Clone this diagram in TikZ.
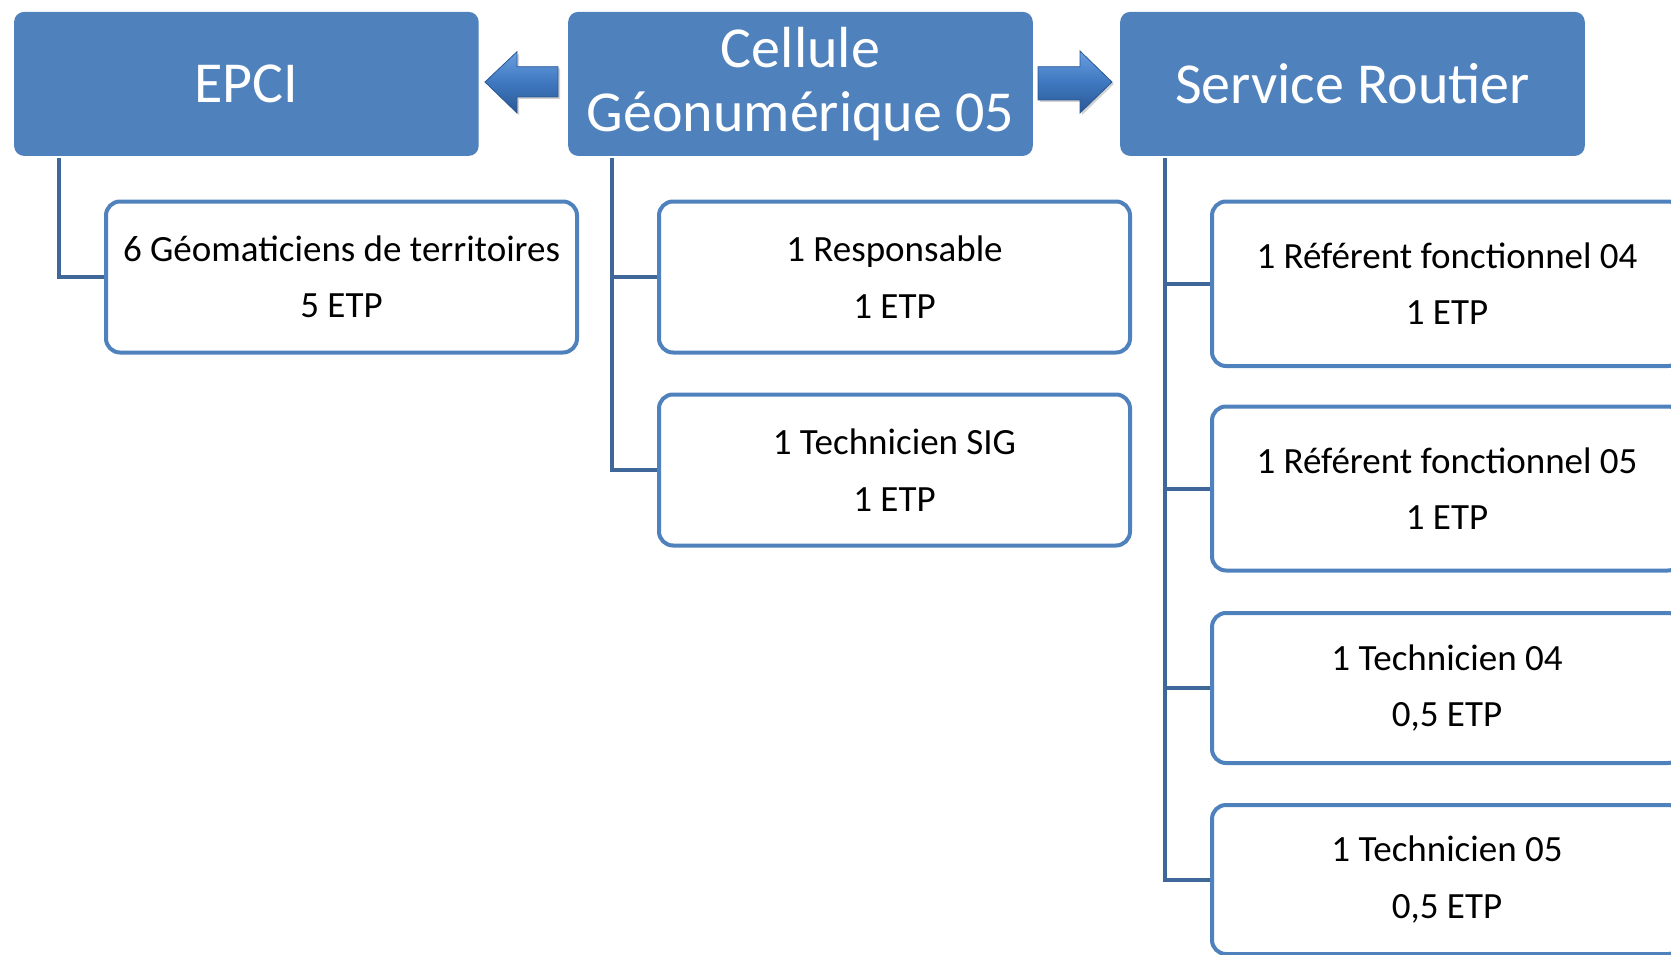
\documentclass[tikz,border=0pt]{standalone}
\usepackage{fontspec}
\setmainfont{Carlito}
\usetikzlibrary{shadows}
\definecolor{hdr}{HTML}{4F81BD}
\definecolor{conn}{HTML}{3F6799}
\definecolor{arrdark}{HTML}{2A5894}
\definecolor{arrmid}{HTML}{3F78C0}
\definecolor{arrlight}{HTML}{6A9FE0}
\begin{document}
\begin{tikzpicture}[x=1pt,y=-1pt,
  header/.style={fill=hdr, rounded corners=10pt, text=white,
    font=\fontsize{58}{64}\selectfont, align=center, inner sep=0pt,
    anchor=north west, minimum width=464.6pt, minimum height=144pt},
  member/.style={draw=hdr, line width=4pt, fill=white, rounded corners=14pt,
    font=\fontsize{37}{56.5}\selectfont, align=center, inner sep=0pt,
    anchor=north west},
  link/.style={draw=conn, line width=4pt},
  blockarrow/.style={draw=arrdark, line width=0.8pt, line join=miter,
    top color=arrlight, bottom color=arrdark, middle color=arrmid,
    drop shadow={opacity=0.35, shadow xshift=2pt, shadow yshift=-2pt}}]
\path[use as bounding box, clip] (0,0) rectangle (1671,955);

% headers
\node[header] (epci) at (13.9,11.7) {EPCI};
\node[header] (cell) at (568,11.7) {Cellule\\Géonumérique 05};
\node[header] (serv) at (1120,11.7) {Service Routier};

% members
\node[member, minimum width=471pt, minimum height=151pt] (geo) at (104,199.5) {6 Géomaticiens de territoires\\5 ETP};
\node[member, minimum width=471pt, minimum height=151pt] (resp) at (657,199.5) {1 Responsable\\1 ETP};
\node[member, minimum width=471pt, minimum height=151pt] (tsig) at (657,392.5) {1 Technicien SIG\\1 ETP};
\node[member, minimum width=470pt, minimum height=164.5pt] (ref04) at (1210,199.5) {1 Référent fonctionnel 04\\1 ETP};
\node[member, minimum width=470pt, minimum height=164pt] (ref05) at (1210,404.5) {1 Référent fonctionnel 05\\1 ETP};
\node[member, minimum width=470pt, minimum height=150pt] (t04) at (1210,611) {1 Technicien 04\\0,5 ETP};
\node[member, minimum width=470pt, minimum height=149pt] (t05) at (1210,803) {1 Technicien 05\\0,5 ETP};

% connectors
\coordinate (epcitop) at (58.6,158);
\coordinate (celltop) at (611.7,158);
\coordinate (servtop) at (1164.8,158);
\draw[link] (epcitop) |- (geo.west);
\draw[link] (celltop) |- (resp.west);
\draw[link] (celltop) |- (tsig.west);
\draw[link] (servtop) |- (ref04.west);
\draw[link] (servtop) |- (ref05.west);
\draw[link] (servtop) |- (t04.west);
\draw[link] (servtop) |- (t05.west);

% block arrows
\path[blockarrow] (485,82) -- (517,51.7) -- (517,66.7) -- (558,66.7) -- (558,97) -- (517,97) -- (517,113) -- cycle;
\path[blockarrow] (1038,66.7) -- (1080,66.7) -- (1080,51) -- (1112,82) -- (1080,113) -- (1080,100) -- (1038,100) -- cycle;
\end{tikzpicture}
\end{document}
